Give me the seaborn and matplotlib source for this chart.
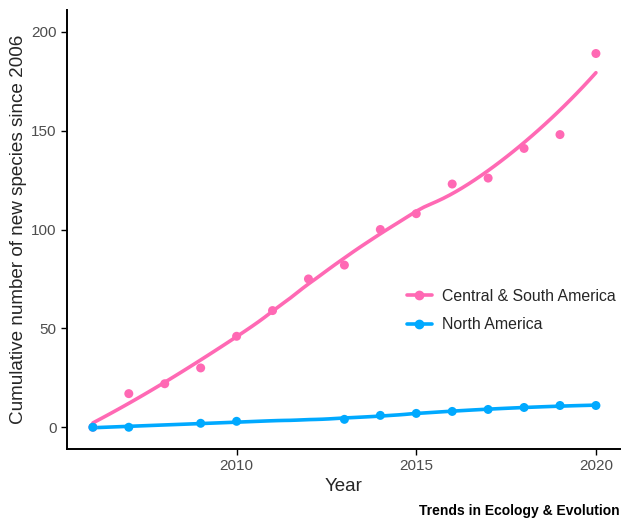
import numpy as np
import pandas as pd
import matplotlib
matplotlib.use('Agg')
import matplotlib.pyplot as plt
import seaborn as sns
from matplotlib.lines import Line2D

# Data
years_csa = [2006, 2007, 2008, 2009, 2010, 2011, 2012, 2013, 2014, 2015, 2016, 2017, 2018, 2019, 2020]
species_csa = [0, 17, 22, 30, 46, 59, 75, 82, 100, 108, 123, 126, 141, 148, 189]
years_na = [2006, 2007, 2009, 2010, 2013, 2014, 2015, 2016, 2017, 2018, 2019, 2020]
species_na = [0, 0, 2, 3, 4, 6, 7, 8, 9, 10, 11, 11]

region_names = ['Central & South America', 'North America']
palette = {'Central & South America': '#FF69B4', 'North America': '#00A9FF'}


def loess(x, y, span=0.75, n_out=80):
    """Local quadratic regression with tricube weights (like geom_smooth)"""
    x = np.asarray(x, float)
    y = np.asarray(y, float)
    q = int(np.floor(span * len(x)))
    grid = np.linspace(x.min(), x.max(), n_out)
    fit = []
    for x0 in grid:
        d = np.abs(x - x0)
        h = np.sort(d)[q - 1]
        w = np.clip(1 - (d / h) ** 3, 0, None) ** 3
        coef = np.polyfit(x - x0, y, 2, w=np.sqrt(w))
        fit.append(coef[-1])
    return grid, np.array(fit)


def main():
    points = pd.concat([
        pd.DataFrame({'Year': years_csa, 'Species': species_csa, 'Region': region_names[0]}),
        pd.DataFrame({'Year': years_na, 'Species': species_na, 'Region': region_names[1]}),
    ])

    gx1, gy1 = loess(years_csa, species_csa)
    gx2, gy2 = loess(years_na, species_na)
    smooth = pd.concat([
        pd.DataFrame({'Year': gx1, 'Species': gy1, 'Region': region_names[0]}),
        pd.DataFrame({'Year': gx2, 'Species': gy2, 'Region': region_names[1]}),
    ])

    sns.set_style('ticks')
    plt.rcParams['font.family'] = ['Liberation Sans', 'DejaVu Sans']

    fig = plt.figure(figsize=(6.21, 5.30), dpi=100)
    ax = fig.add_axes([67 / 621, 81 / 530, 553 / 621, 439 / 530])

    sns.lineplot(data=smooth, x='Year', y='Species', hue='Region', palette=palette,
                 linewidth=2.6, ax=ax, legend=False, zorder=2)
    sns.scatterplot(data=points, x='Year', y='Species', hue='Region', palette=palette,
                    s=42, edgecolor='none', ax=ax, legend=False, zorder=3)

    ax.set_xlim(2005.28, 2020.67)
    ax.set_ylim(-11, 211)
    ax.set_xticks([2010, 2015, 2020])
    ax.set_yticks([0, 50, 100, 150, 200])
    ax.tick_params(axis='both', labelsize=11, labelcolor='#4D4D4D', length=4, width=1, color='black')
    for side in ['top', 'right']:
        ax.spines[side].set_visible(False)
    for side in ['left', 'bottom']:
        ax.spines[side].set_linewidth(1.4)
        ax.spines[side].set_color('black')

    ax.set_xlabel('Year', fontsize=13.5, labelpad=3)
    ax.set_ylabel('Cumulative number of new species since 2006', fontsize=13.6, labelpad=3)

    handles = [Line2D([], [], color=palette[r], marker='o', markersize=6, linewidth=2.6) for r in region_names]
    ax.legend(handles, region_names, loc='center left', bbox_to_anchor=(0.598, 0.315),
              frameon=False, fontsize=11.4, handlelength=1.55, handletextpad=0.65,
              labelspacing=0.85, borderpad=0.3, borderaxespad=0.3)

    fig.text(0.998, 0.022, 'Trends in Ecology & Evolution', ha='right', va='bottom',
             fontsize=10, fontweight='bold', color='black')

    fig.savefig('out.png', dpi=100)


if __name__ == '__main__':
    main()
